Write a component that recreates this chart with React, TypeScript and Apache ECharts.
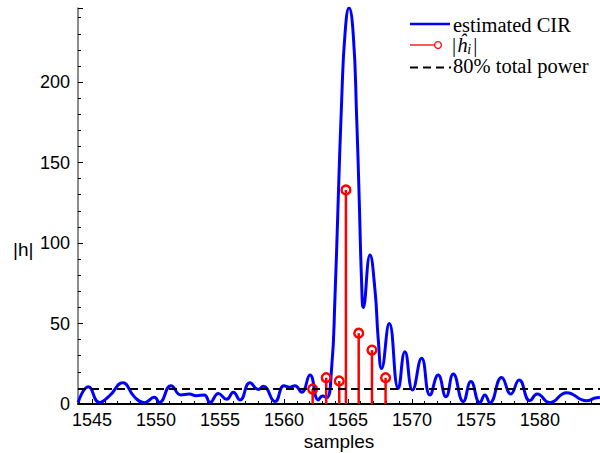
import React, { useEffect, useRef } from "react";
import * as echarts from "echarts";

// estimated CIR curve (samples, |h|)
const cirX = [
  1543.91, 1544.71, 1545.57, 1546.35, 1547.4, 1548.3, 1549.09, 1549.87, 1550.26, 1551.17,
  1551.95, 1552.6, 1553.13, 1553.77, 1554.22, 1554.87, 1555.52, 1556.04, 1556.56, 1557.34,
  1557.99, 1558.38, 1559.3, 1560.0, 1560.47, 1560.86, 1561.38, 1562.03, 1562.68, 1563.0,
  1563.34, 1563.73, 1563.98, 1564.24, 1564.51, 1564.77, 1565.08, 1565.41, 1565.68, 1565.88,
  1566.07, 1566.2, 1566.72, 1567.11, 1567.37, 1567.63, 1568.23, 1568.93, 1569.45, 1570.05,
  1570.76, 1571.41, 1572.05, 1572.66, 1573.23, 1574.01, 1574.61, 1575.31, 1575.7, 1576.09,
  1577.01, 1577.73, 1578.38, 1579.22, 1579.79, 1580.78, 1582.09, 1583.65, 1584.43, 1584.69,
];
const cirY = [
  1, 10.7, 1, 5, 13.2, 4.5, 0.8, 4.2, 1, 11.4,
  5.6, 6.2, 5.2, 5.6, 1, 6.6, 2.9, 7.3, 2.5, 13.2,
  9, 11, 1.5, 11.4, 10.4, 11.4, 7.3, 18, 2.5, 5,
  4, 23, 65, 127, 189, 230, 246, 230, 178, 127,
  75, 60, 92.5, 71, 40, 22, 50, 9.7, 32.5, 8.7,
  28.4, 5.6, 18, 4.5, 18.6, 1.5, 13.9, 0.8, 5.6, 0.8,
  16.5, 6.2, 14.9, 2, 6.2, 0.8, 7, 2, 3.9, 4,
];

// |h_i| stems
const stemX = [1562.24, 1563.3, 1564.32, 1564.84, 1565.84, 1566.875, 1567.94];
const stemY = [9.3, 16.3, 14.3, 133, 44, 33.5, 16.3];

// 80% total power threshold
const thresholdValue = 9.3;

const xMin = 1543.9;
const xMax = 1584.7;
const yMax = 246;

const xAxisTitle = "samples";
const yAxisTitle = "|h|";
const legendLabels = ["estimated CIR", "80% total power"];

export default function App() {
  const ref = useRef<HTMLDivElement>(null);

  useEffect(() => {
    if (!ref.current) return;
    const chart = echarts.init(ref.current, null, { renderer: "svg" });

    const curveData = cirX.map((x, i) => [x, cirY[i]]);
    const stemData = stemX.map((x, i) => [x, stemY[i]]);
    const serifFont = '"Liberation Serif", "Times New Roman", serif';
    const sansFont = '"Liberation Sans", Arial, sans-serif';

    chart.setOption({
      animation: false,
      backgroundColor: "#ffffff",
      grid: { left: 78, right: 0, top: 8, bottom: 49, containLabel: false, outerBoundsMode: "none" },
      xAxis: {
        type: "value",
        min: xMin,
        max: xMax,
        splitNumber: 8,
        axisLine: { show: true, onZero: false, lineStyle: { color: "#000", width: 2 } },
        axisTick: { show: true, inside: true, length: 5, lineStyle: { color: "#000", width: 1 } },
        minorTick: { show: true, splitNumber: 5, length: 3, lineStyle: { color: "#000", width: 1 } },
        splitLine: { show: false },
        minorSplitLine: { show: false },
        axisLabel: {
          showMinLabel: false,
          showMaxLabel: false,
          margin: 7,
          fontFamily: sansFont,
          fontSize: 18,
          color: "#000",
          formatter: (v: number) => (Math.abs(v - Math.round(v)) < 1e-6 && Math.round(v) % 5 === 0 ? String(Math.round(v)) : ""),
        },
      },
      yAxis: {
        type: "value",
        min: 0,
        max: yMax,
        interval: 50,
        axisLine: { show: true, lineStyle: { color: "#666", width: 1.5 } },
        axisTick: { show: true, inside: true, length: 5, lineStyle: { color: "#000", width: 1 } },
        minorTick: { show: true, splitNumber: 5, length: 3, lineStyle: { color: "#000", width: 1 } },
        splitLine: { show: false },
        minorSplitLine: { show: false },
        axisLabel: {
          showMaxLabel: false,
          margin: 8,
          fontFamily: sansFont,
          fontSize: 18,
          color: "#000",
          formatter: (v: number) => (v % 50 === 0 ? String(v) : ""),
        },
      },
      series: [
        {
          type: "line",
          name: legendLabels[0],
          data: curveData,
          smooth: 0.5,
          symbol: "none",
          lineStyle: { color: "#0000ff", width: 3 },
          z: 2,
        },
        {
          type: "custom",
          name: "stems",
          data: stemData,
          z: 3,
          renderItem: (params: any, api: any) => {
            const x = api.value(0);
            const y = api.value(1);
            const p0 = api.coord([x, 0]);
            const p1 = api.coord([x, y]);
            return {
              type: "group",
              children: [
                {
                  type: "line",
                  shape: { x1: p0[0], y1: p0[1], x2: p1[0], y2: p1[1] },
                  style: { stroke: "#ff0000", lineWidth: 2.5 },
                },
                {
                  type: "circle",
                  shape: { cx: p1[0], cy: p1[1], r: 4.4 },
                  style: { fill: "none", stroke: "#ff0000", lineWidth: 2.4 },
                },
              ],
            };
          },
        },
        {
          type: "line",
          name: legendLabels[1],
          data: [
            [xMin, thresholdValue],
            [xMax, thresholdValue],
          ],
          symbol: "none",
          lineStyle: { color: "#000", width: 2, type: [8, 5] },
          z: 4,
        },
      ],
      graphic: [
        // axis titles
        {
          type: "text",
          x: 339,
          y: 441,
          style: { text: xAxisTitle, fontFamily: sansFont, fontSize: 19, fill: "#000", align: "center", verticalAlign: "middle" },
        },
        {
          type: "text",
          left: 13,
          top: 240,
          style: { text: yAxisTitle, fontFamily: sansFont, fontSize: 19, fill: "#000" },
        },
        // legend row 1
        {
          type: "line",
          shape: { x1: 410, y1: 24, x2: 450, y2: 24 },
          style: { stroke: "#0000ff", lineWidth: 2.5 },
        },
        {
          type: "text",
          x: 453,
          y: 25,
          style: { text: legendLabels[0], fontFamily: serifFont, fontSize: 20.5, fill: "#000", verticalAlign: "middle" },
        },
        // legend row 2
        {
          type: "line",
          shape: { x1: 410, y1: 45, x2: 434.5, y2: 45 },
          style: { stroke: "#ff0000", lineWidth: 1.3 },
        },
        {
          type: "circle",
          shape: { cx: 438, cy: 45, r: 3.4 },
          style: { fill: "none", stroke: "#ff0000", lineWidth: 1.3 },
        },
        {
          type: "text",
          x: 452,
          y: 45,
          style: {
            text: "{b||}{h|ĥ}{s|i}{b||}",
            fontFamily: serifFont,
            fontSize: 20.5,
            fill: "#000",
            verticalAlign: "middle",
            rich: {
              b: { fontFamily: serifFont, fontSize: 20.5, lineHeight: 22, verticalAlign: "middle", padding: [0, 1, 0, 0] },
              h: { fontFamily: serifFont, fontSize: 20.5, fontStyle: "italic", lineHeight: 22, verticalAlign: "middle" },
              s: { fontFamily: serifFont, fontSize: 14, fontStyle: "italic", lineHeight: 14, verticalAlign: "bottom", padding: [0, 2, 0, 0] },
            },
          },
        },
        // legend row 3
        {
          type: "line",
          shape: { x1: 410, y1: 67.5, x2: 451, y2: 67.5 },
          style: { stroke: "#000", lineWidth: 2, lineDash: [8, 5] },
        },
        {
          type: "text",
          x: 453,
          y: 66,
          style: { text: legendLabels[1], fontFamily: serifFont, fontSize: 20.5, fill: "#000", verticalAlign: "middle" },
        },
      ],
    });

    return () => chart.dispose();
  }, []);

  return <div ref={ref} style={{ width: 600, height: 453, position: "absolute", left: 0, top: 0 }} />;
}
